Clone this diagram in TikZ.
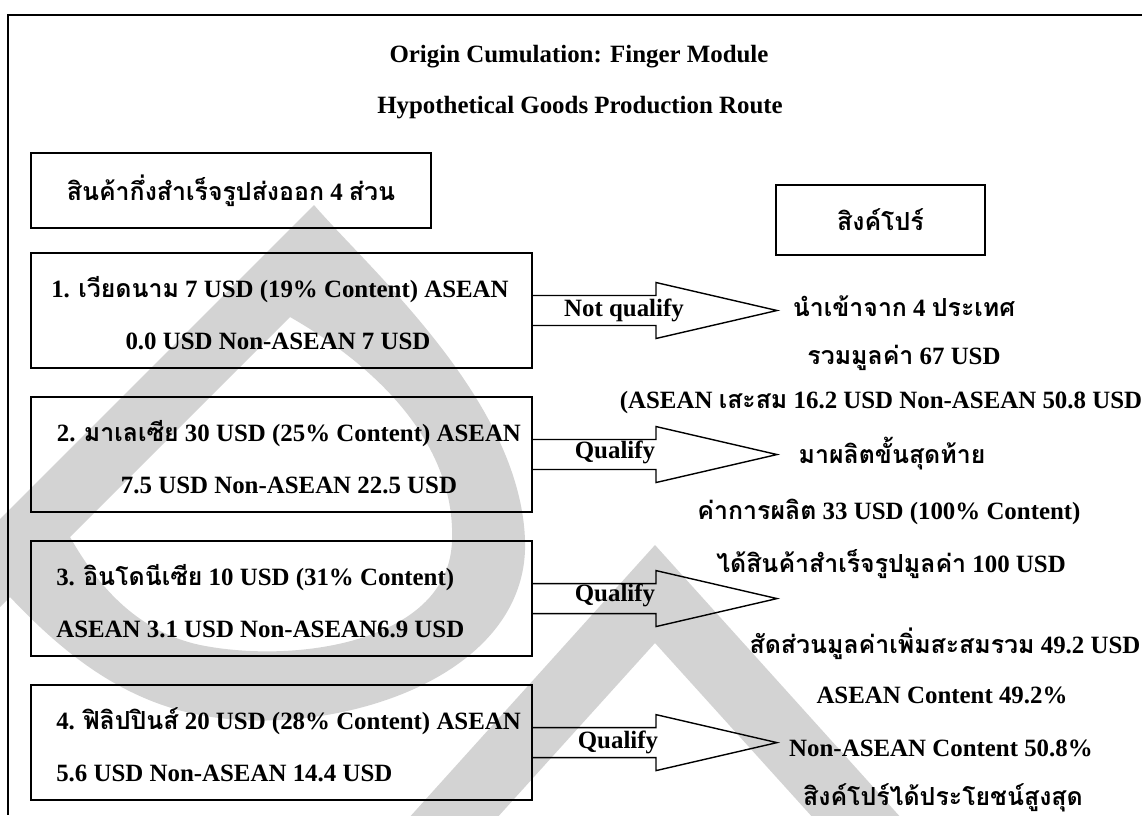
\documentclass[tikz,border=0pt]{standalone}
\usepackage{fontspec}
\setmainfont{Liberation Serif}
\newfontfamily\thaifont[Script=Thai]{Loma}
\newcommand{\thaitxt}[1]{{\thaifont #1}}
\usetikzlibrary{positioning, calc}
\definecolor{wmgray}{RGB}{211,211,211}
\tikzstyle{txt} = [font=\bfseries\fontsize{17.7}{21}\selectfont, inner sep=0pt]
\tikzstyle{partbox} = [rectangle, minimum width=12.525cm, minimum height=2.875cm, draw=black, line width=1.3pt]
\tikzstyle{headbox} = [rectangle, txt, draw=black, line width=1.3pt]
\tikzstyle{blockarrow} = [draw=black, line width=1pt, line join=miter]
\tikzstyle{frame} = [draw=black, line width=1.5pt]

\begin{document}
\begin{tikzpicture}[x=0.025cm, y=-0.025cm, node distance=3.6cm]
      \clip (0,0) rectangle (1142,815);
      \fill[wmgray, even odd rule] (314,205) .. controls (370,270) and (520,400) .. (525,540)
            .. controls (530,680) and (330,740) .. (200,715) .. controls (120,700) and (60,650) .. (10,597)
            -- (-100,707) -- (-100,619) -- cycle
            (290,317) .. controls (400,380) and (455,460) .. (452,540) .. controls (450,640) and (300,665) .. (200,645)
            .. controls (140,632) and (100,590) .. (70,537) -- cycle;
      \fill[wmgray, even odd rule] (655,545) -- (912,830) -- (398,830) -- cycle (655,643) -- (824,830) -- (486,830) -- cycle;
      \draw[frame] (1142,15) -- (8,15) -- (8,815);

      \node (title)  [txt] at (579,57)   {Origin Cumulation: Finger Module};
      \node (route)  [txt] at (580,108)  {Hypothetical Goods Production Route};

      \node (semi)   [headbox, minimum width=10cm, minimum height=1.875cm] at (231,190.5) {\thaitxt{สินค้ากึ่งสำเร็จรูปส่งออก} 4 \thaitxt{ส่วน}};
      \node (sing)   [headbox, minimum width=5.225cm, minimum height=1.75cm] at (880.5,220) {\thaitxt{สิงค์โปร์}};

      \node (vn)     [partbox] at (281.5,310.5) {};
      \node (my)     [partbox, below of=vn]   {};
      \node (id)     [partbox, below of=my]   {};
      \node (ph)     [partbox, below of=id]   {};

      \node (vn1)    [txt, anchor=west] at ([shift={(21,-21)}]vn.west)  {1. \thaitxt{เวียดนาม} 7 USD (19\% Content) ASEAN};
      \node (vn2)    [txt]              at ([shift={(-3.5,31)}]vn.center) {0.0 USD Non-ASEAN 7 USD};
      \node (my1)    [txt]              at ([shift={(7.5,-21)}]my.center) {2. \thaitxt{มาเลเซีย} 30 USD (25\% Content) ASEAN};
      \node (my2)    [txt]              at ([shift={(7.5,31)}]my.center)  {7.5 USD Non-ASEAN 22.5 USD};
      \node (id1)    [txt, anchor=west] at ([shift={(26,-21)}]id.west)  {3. \thaitxt{อินโดนีเซีย} 10 USD (31\% Content)};
      \node (id2)    [txt, anchor=west] at ([shift={(26,31)}]id.west)   {ASEAN 3.1 USD Non-ASEAN6.9 USD};
      \node (ph1)    [txt, anchor=west] at ([shift={(26,-21)}]ph.west)  {4. \thaitxt{ฟิลิปปินส์} 20 USD (28\% Content) ASEAN};
      \node (ph2)    [txt, anchor=west] at ([shift={(26,31)}]ph.west)   {5.6 USD Non-ASEAN 14.4 USD};

      \draw [blockarrow] ($(vn.east)+(0,-15)$) -- ++(123,0) -- ++(0,-13) -- ++(121,28) -- ++(-121,28) -- ++(0,-13) -- ++(-123,0);
      \draw [blockarrow] ($(my.east)+(0,-15)$) -- ++(123,0) -- ++(0,-13) -- ++(121,28) -- ++(-121,28) -- ++(0,-13) -- ++(-123,0);
      \draw [blockarrow] ($(id.east)+(0,-15)$) -- ++(123,0) -- ++(0,-13) -- ++(121,28) -- ++(-121,28) -- ++(0,-13) -- ++(-123,0);
      \draw [blockarrow] ($(ph.east)+(0,-15)$) -- ++(123,0) -- ++(0,-13) -- ++(121,28) -- ++(-121,28) -- ++(0,-13) -- ++(-123,0);

      \node (nq)     [txt] at ($(vn.east)+(91,0)$)  {Not qualify};
      \node (q2)     [txt] at ($(my.east)+(82,-2)$) {Qualify};
      \node (q3)     [txt] at ($(id.east)+(82,-3)$) {Qualify};
      \node (q4)     [txt] at ($(ph.east)+(85,0)$)  {Qualify};

      \node (imp)    [txt] at (904,306) {\thaitxt{นำเข้าจาก} 4 \thaitxt{ประเทศ}};
      \node (sum)    [txt] at (904,358) {\thaitxt{รวมมูลค่า} 67 USD};
      \node (acc)    [txt] at (881,403) {(ASEAN \thaitxt{เสะสม} 16.2 USD Non-ASEAN 50.8 USD};
      \node (fin)    [txt] at (892,454) {\thaitxt{มาผลิตขั้นสุดท้าย}};
      \node (cost)   [txt] at (889,512) {\thaitxt{ค่าการผลิต} 33 USD (100\% Content)};
      \node (goods)  [txt] at (891,564) {\thaitxt{ได้สินค้าสำเร็จรูปมูลค่า} 100 USD};
      \node (ratio)  [txt] at (945,644) {\thaitxt{สัดส่วนมูลค่าเพิ่มสะสมรวม} 49.2 USD};
      \node (asean)  [txt] at (942,695) {ASEAN Content 49.2\%};
      \node (non)    [txt] at (941,748) {Non-ASEAN Content 50.8\%};
      \node (gain)   [txt] at (943,798) {\thaitxt{สิงค์โปร์ได้ประโยชน์สูงสุด}};
    \end{tikzpicture}
\end{document}
